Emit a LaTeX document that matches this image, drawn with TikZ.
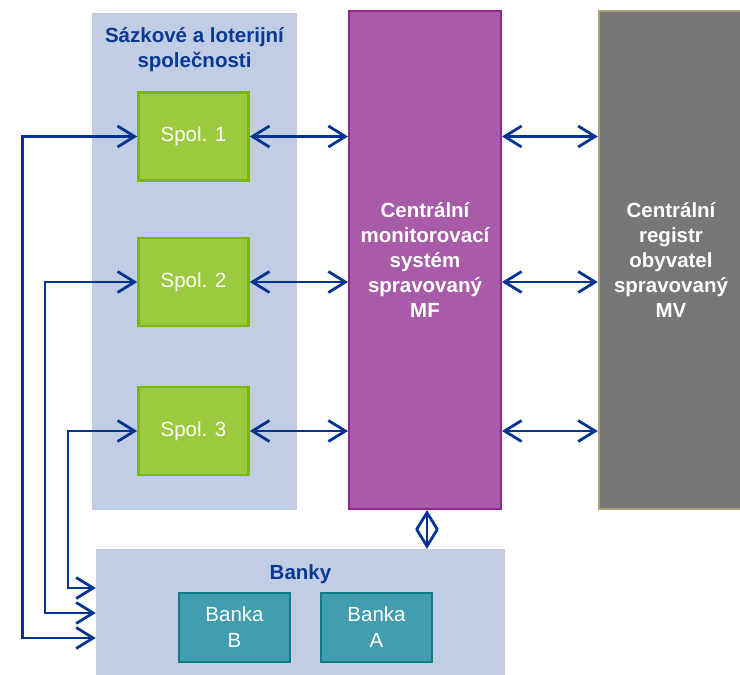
\documentclass[tikz,border=0pt]{standalone}
\usepackage{fontspec}
\setmainfont{Liberation Sans}
\usetikzlibrary{arrows.meta}

\definecolor{panelblue}{RGB}{193,205,228}
\definecolor{headblue}{RGB}{10,57,145}
\definecolor{linkblue}{RGB}{4,52,145}
\definecolor{spolfill}{RGB}{157,201,64}
\definecolor{spolborder}{RGB}{122,184,0}
\definecolor{cmsfill}{RGB}{168,91,168}
\definecolor{cmsborder}{RGB}{147,39,143}
\definecolor{regfill}{RGB}{119,119,119}
\definecolor{regborder}{RGB}{171,162,120}
\definecolor{bankfill}{RGB}{66,157,175}
\definecolor{bankborder}{RGB}{15,124,140}

\begin{document}
\begin{tikzpicture}[
  x=1pt,y=-1pt,
  panel/.style={fill=panelblue, inner sep=0pt},
  heading/.style={font=\fontsize{20.5}{25}\selectfont\bfseries,
    text=headblue, align=center},
  company/.style={draw=spolborder, fill=spolfill, line width=2.6pt,
    minimum width=110pt, minimum height=88pt, text=white,
    font=\fontsize{20.5}{25}\selectfont},
  system/.style={line width=2.4pt, minimum height=497.5pt, text=white,
    align=center, font=\fontsize{20.5}{25.2}\selectfont\bfseries},
  bank/.style={draw=bankborder, fill=bankfill, line width=2.4pt,
    minimum width=110.5pt, minimum height=68.5pt, text=white, align=center,
    font=\fontsize{20.5}{26}\selectfont},
  link/.style={{Straight Barb[length=17pt,width=21pt,line width=2.8pt]}-{Straight Barb[length=17pt,width=21pt,line width=2.8pt]},
    line width=2.3pt, draw=linkblue}
]
\useasboundingbox (0,0) rectangle (740,675);

% background panels
\node[panel, minimum width=205pt, minimum height=497pt] (sazpanel) at (194.5,261.5) {};
\node[panel, minimum width=409pt, minimum height=128pt] (banky) at (300.5,613) {};
\node[heading] (saztitle) at (194.5,49.5) {Sázkové a loterijní\\společnosti};
\node[heading] (bankytitle) at (300.5,574) {Banky};

% companies
\node[company] (spol1) at (193.5,136.5) {Spol. 1};
\node[company] (spol2) at (193.5,282) {Spol. 2};
\node[company] (spol3) at (193.5,431) {Spol. 3};

% central systems
\node[system, draw=cmsborder, fill=cmsfill, minimum width=151.5pt] (cms) at (425,260)
  {Centrální\\monitorovací\\systém\\spravovaný\\MF};
\node[system, draw=regborder, fill=regfill, minimum width=144pt] (cro) at (671,260)
  {Centrální\\registr\\obyvatel\\spravovaný\\MV};

% banks
\node[bank] (bankab) at (234.5,627.5) {Banka\\B};
\node[bank] (bankaa) at (376.5,627.5) {Banka\\A};

% links
\foreach \s in {spol1,spol2,spol3}{
  \draw[link] (\s.east) -- (\s.east -| cms.west);
  \draw[link] (cms.east |- \s.east) -- (cro.west |- \s.east);
}
\draw[link] ([xshift=2pt]cms.south) -- ([xshift=2pt]cms.south |- banky.north);

\coordinate (turn1) at (22.5,638);
\coordinate (turn2) at (45,613);
\coordinate (turn3) at (68,588);
\draw[link] (spol1.west) -| (turn1) -- (turn1 -| banky.west);
\draw[link] (spol2.west) -| (turn2) -- (turn2 -| banky.west);
\draw[link] (spol3.west) -| (turn3) -- (turn3 -| banky.west);
\end{tikzpicture}
\end{document}
